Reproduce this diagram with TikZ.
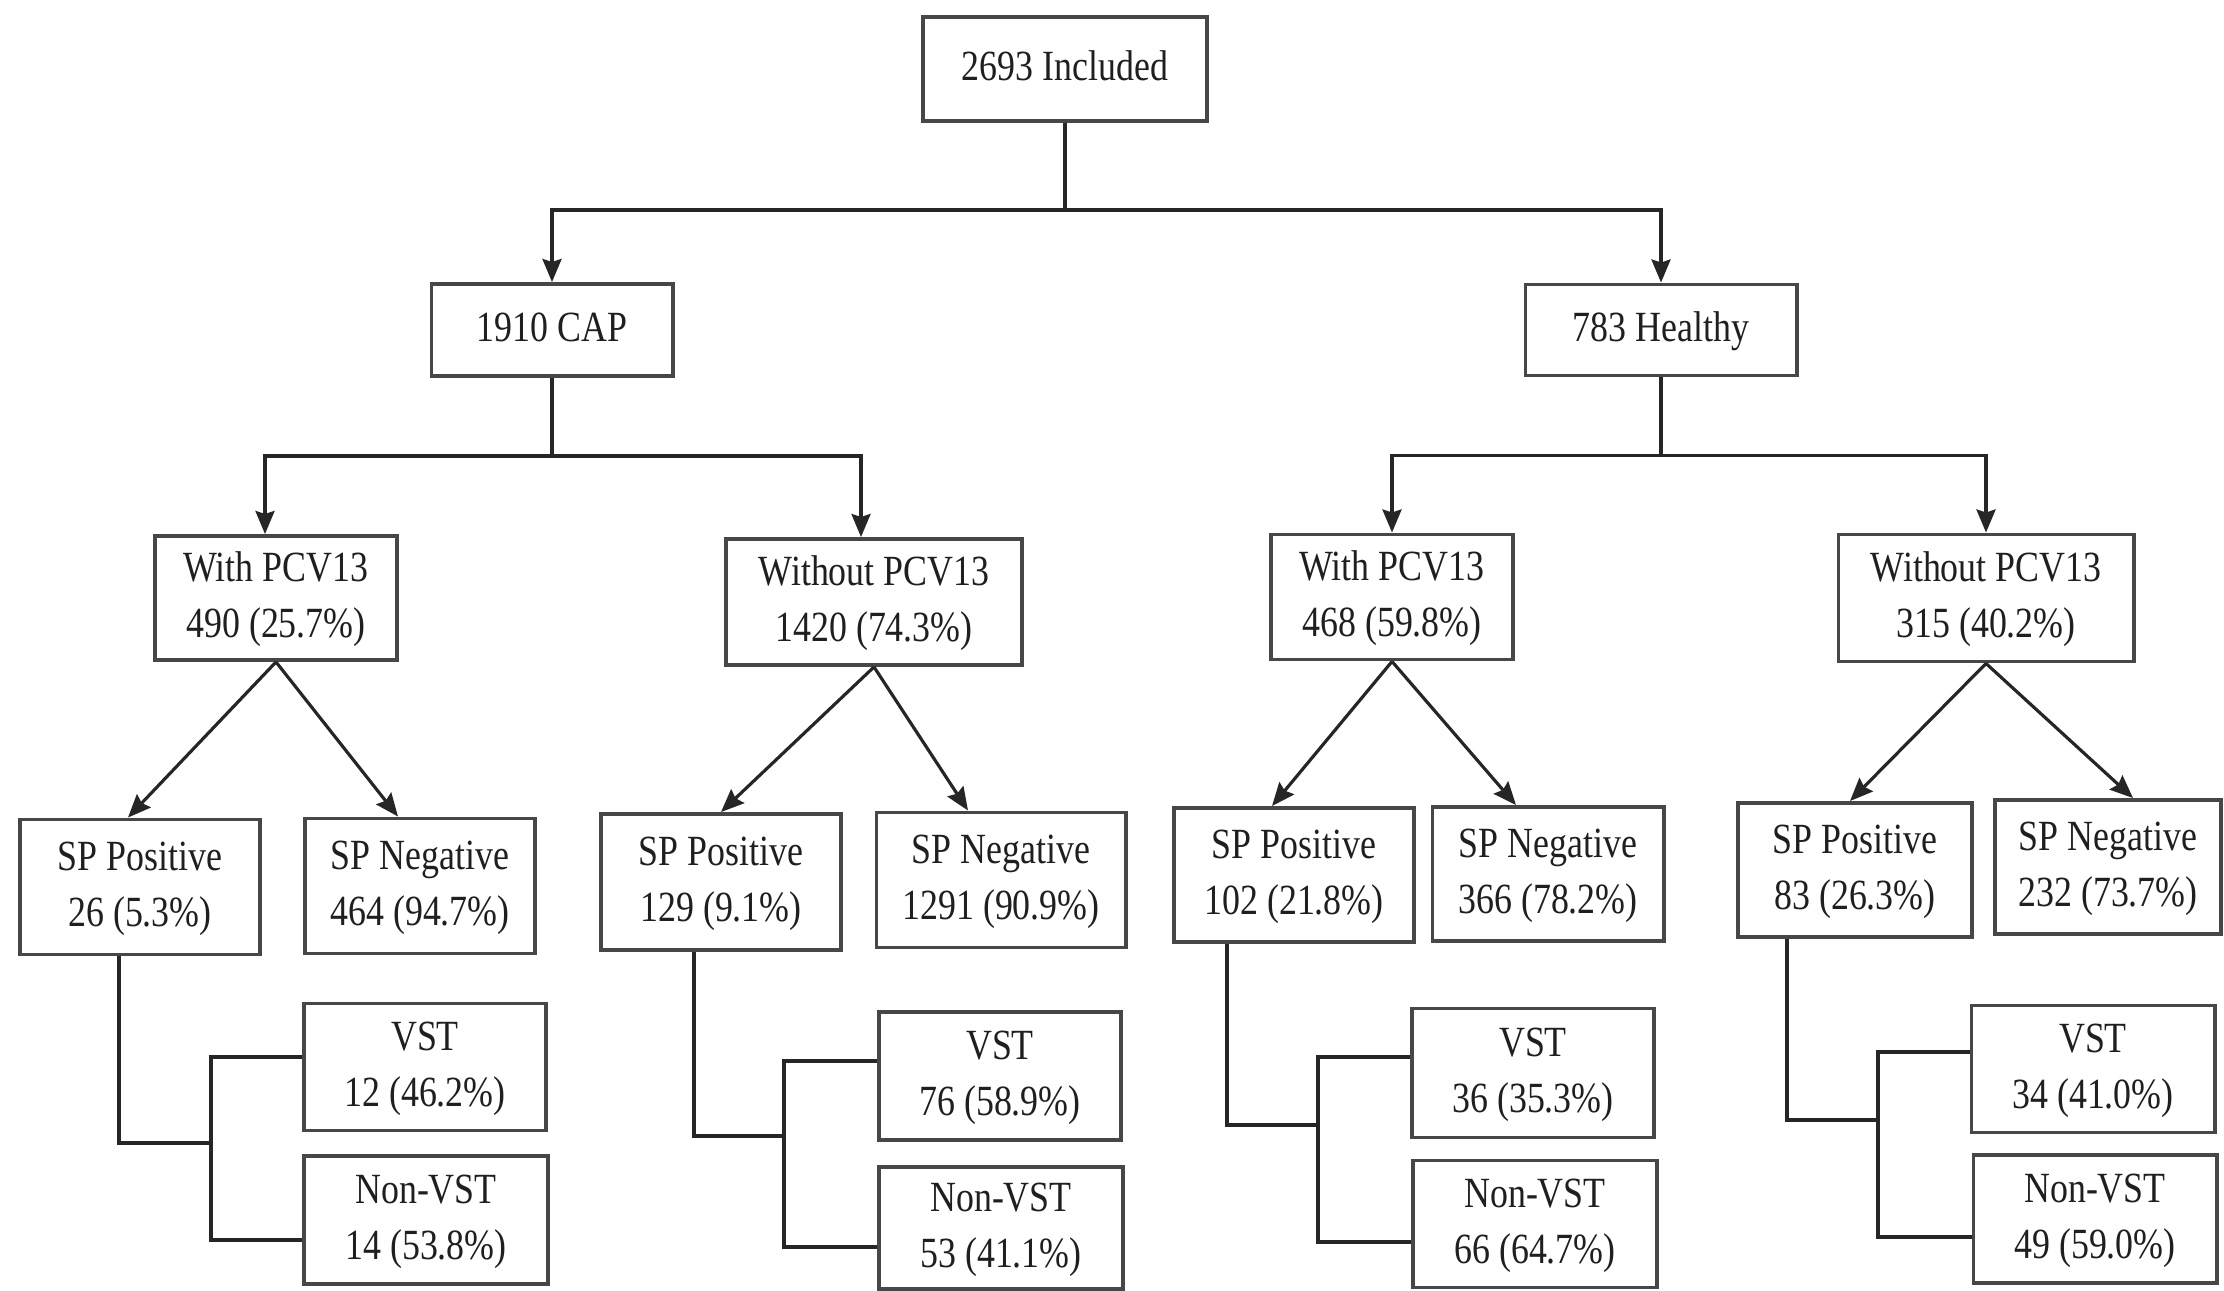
\documentclass[tikz,border=0pt]{standalone}
\usepackage{fontspec}
\setmainfont{Liberation Serif}
\usepackage{graphicx}
\usetikzlibrary{arrows.meta,calc}
\newcommand{\bt}[1]{\scalebox{1}[1.2]{\begin{tabular}{@{}c@{}}#1\end{tabular}}}
\begin{document}
\begin{tikzpicture}[x=0.01cm,y=-0.01cm,
  bx/.style={draw=black!72,line width=1.1pt,inner sep=0pt,text=black!88,
    font=\fontsize{10.2}{13.4}\selectfont},
  ln/.style={draw=black!85,line width=0.9pt},
  arr/.style={ln,-{Stealth[length=0.23cm,width=0.19cm,inset=0.03cm]}}]
\useasboundingbox[fill=white] (0,0) rectangle (2224,1291);
% level 0
\node[bx,minimum width=2.84cm,minimum height=1.04cm] (top) at (1065,69) {\raisebox{5pt}{\bt{2693 Included}}};
% level 1
\node[bx,minimum width=2.41cm,minimum height=0.92cm] (cap) at (552,330) {\raisebox{2pt}{\bt{1910 CAP}}};
\node[bx,minimum width=2.71cm,minimum height=0.91cm] (hea) at (1661,330) {\bt{783 Healthy}};
% level 2
\node[bx,minimum width=2.42cm,minimum height=1.24cm] (cw) at (276,598) {\bt{With PCV13\\490 (25.7\%)}};
\node[bx,minimum width=2.95cm,minimum height=1.26cm] (cwo) at (874,602) {\bt{Without PCV13\\1420 (74.3\%)}};
\node[bx,minimum width=2.42cm,minimum height=1.25cm] (hw) at (1392,597) {\bt{With PCV13\\468 (59.8\%)}};
\node[bx,minimum width=2.95cm,minimum height=1.27cm] (hwo) at (1986,598) {\bt{Without PCV13\\315 (40.2\%)}};
% level 3
\node[bx,minimum width=2.40cm,minimum height=1.35cm] (cwP) at (140,887) {\bt{SP Positive\\26 (5.3\%)}};
\node[bx,minimum width=2.30cm,minimum height=1.35cm] (cwN) at (420,886) {\bt{SP Negative\\464 (94.7\%)}};
\node[bx,minimum width=2.40cm,minimum height=1.36cm] (cwoP) at (721,882) {\bt{SP Positive\\129 (9.1\%)}};
\node[bx,minimum width=2.49cm,minimum height=1.35cm] (cwoN) at (1001,880) {\bt{SP Negative\\1291 (90.9\%)}};
\node[bx,minimum width=2.40cm,minimum height=1.34cm] (hwP) at (1294,875) {\bt{SP Positive\\102 (21.8\%)}};
\node[bx,minimum width=2.31cm,minimum height=1.34cm] (hwN) at (1548,874) {\bt{SP Negative\\366 (78.2\%)}};
\node[bx,minimum width=2.34cm,minimum height=1.34cm] (hwoP) at (1855,870) {\bt{SP Positive\\83 (26.3\%)}};
\node[bx,minimum width=2.26cm,minimum height=1.34cm] (hwoN) at (2108,867) {\bt{SP Negative\\232 (73.7\%)}};
% level 4
\node[bx,minimum width=2.42cm,minimum height=1.27cm] (cwV) at (425,1067) {\bt{VST\\12 (46.2\%)}};
\node[bx,minimum width=2.44cm,minimum height=1.28cm] (cwNV) at (426,1220) {\bt{Non-VST\\14 (53.8\%)}};
\node[bx,minimum width=2.42cm,minimum height=1.28cm] (cwoV) at (1000,1076) {\bt{VST\\76 (58.9\%)}};
\node[bx,minimum width=2.44cm,minimum height=1.22cm] (cwoNV) at (1001,1228) {\bt{Non-VST\\53 (41.1\%)}};
\node[bx,minimum width=2.42cm,minimum height=1.29cm] (hwV) at (1533,1073) {\bt{VST\\36 (35.3\%)}};
\node[bx,minimum width=2.44cm,minimum height=1.27cm] (hwNV) at (1535,1224) {\bt{Non-VST\\66 (64.7\%)}};
\node[bx,minimum width=2.43cm,minimum height=1.27cm] (hwoV) at (2093,1069) {\bt{VST\\34 (41.0\%)}};
\node[bx,minimum width=2.43cm,minimum height=1.28cm] (hwoNV) at (2095,1219) {\bt{Non-VST\\49 (59.0\%)}};
% top split
\draw[ln] (top.south) -- ++(0,87) coordinate (j0);
\draw[arr] (j0) -| (cap.north);
\draw[arr] (j0) -| (hea.north);
% CAP split
\draw[ln] (cap.south) -- ++(0,78) coordinate (j1);
\draw[arr] (j1) -| ($(cw.north)+(-11,0)$);
\draw[arr] (j1) -| ($(cwo.north)+(-13,0)$);
% Healthy split
\draw[ln] (hea.south) -- ++(0,78) coordinate (j2);
\draw[arr] (j2) -| (hw.north);
\draw[arr] (j2) -| (hwo.north);
% diagonals
\draw[arr] (cw.south) -- ($(cwP.north)+(-12,0)$);
\draw[arr] (cw.south) -- ($(cwN.north)+(-22,0)$);
\draw[arr] (cwo.south) -- ($(cwoP.north)+(0,0)$);
\draw[arr] (cwo.south) -- ($(cwoN.north)+(-33,0)$);
\draw[arr] (hw.south) -- ($(hwP.north)+(-22,0)$);
\draw[arr] (hw.south) -- ($(hwN.north)+(-32,0)$);
\draw[arr] (hwo.south) -- ($(hwoP.north)+(-5,0)$);
\draw[arr] (hwo.south) -- ($(hwoN.north)+(25,0)$);
% elbow connectors
\coordinate (cwM) at (211,1143);
\coordinate (cwA) at (211,1057);
\coordinate (cwB) at (211,1240);
\draw[ln] ($(cwP.south)+(-21,0)$) |- (cwM);
\draw[ln] (cwA -| cwV.west) -- (cwA) -- (cwB) -- (cwB -| cwNV.west);
\coordinate (cwoM) at (784,1136);
\coordinate (cwoA) at (784,1061);
\coordinate (cwoB) at (784,1247);
\draw[ln] ($(cwoP.south)+(-27,0)$) |- (cwoM);
\draw[ln] (cwoA -| cwoV.west) -- (cwoA) -- (cwoB) -- (cwoB -| cwoNV.west);
\coordinate (hwM) at (1318,1125);
\coordinate (hwA) at (1318,1057);
\coordinate (hwB) at (1318,1242);
\draw[ln] ($(hwP.south)+(-67,0)$) |- (hwM);
\draw[ln] (hwA -| hwV.west) -- (hwA) -- (hwB) -- (hwB -| hwNV.west);
\coordinate (hwoM) at (1878,1120);
\coordinate (hwoA) at (1878,1052);
\coordinate (hwoB) at (1878,1237);
\draw[ln] ($(hwoP.south)+(-68,0)$) |- (hwoM);
\draw[ln] (hwoA -| hwoV.west) -- (hwoA) -- (hwoB) -- (hwoB -| hwoNV.west);
\end{tikzpicture}
\end{document}
